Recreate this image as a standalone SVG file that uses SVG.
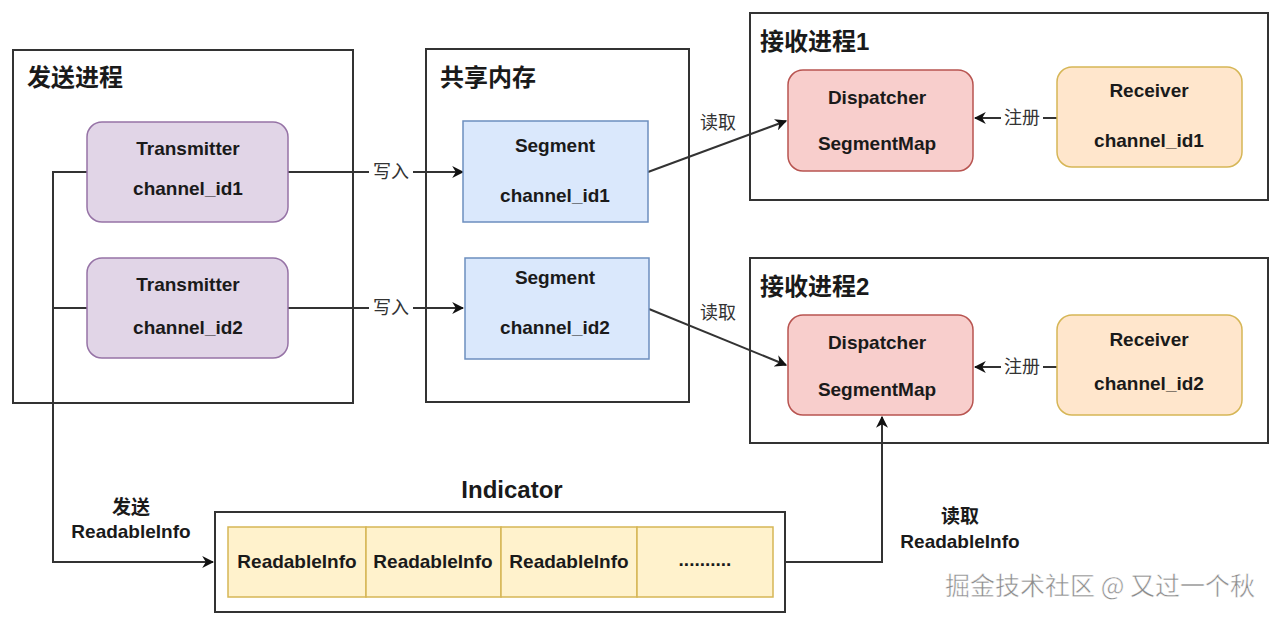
<svg xmlns="http://www.w3.org/2000/svg" width="1274" height="619" viewBox="0 0 1274 619">
<style>
.t{font-family:"Liberation Sans","Noto Sans CJK SC",sans-serif;fill:#1a1a1a}
.title{font-size:24px;font-weight:bold}
.nt{font-size:19px;font-weight:bold;text-anchor:middle}
.lbl{font-size:18px;text-anchor:middle;fill:#333}
.cont{fill:#fff;stroke:#333;stroke-width:2}
.tx{fill:#e1d5e7;stroke:#9673a6;stroke-width:1.5}
.seg{fill:#dae8fc;stroke:#6c8ebf;stroke-width:1.5}
.dis{fill:#f8cecc;stroke:#b85450;stroke-width:1.5}
.rcv{fill:#ffe6cc;stroke:#d6b656;stroke-width:1.5}
.cell{fill:#fff2cc;stroke:#d6b656;stroke-width:1.5}
.ln{fill:none;stroke:#333;stroke-width:2}
</style>
<defs>
<marker id="a" viewBox="0 0 10 10" refX="9" refY="5" markerWidth="12" markerHeight="12" orient="auto" markerUnits="userSpaceOnUse">
<path d="M0,0 L10,5 L0,10 L3,5 z" fill="#111"/>
</marker>
</defs>
<rect width="1274" height="619" fill="#fff"/>

<g id="sender">
<rect class="cont" x="13" y="50" width="340" height="353"/>
<text class="t title" x="27" y="86">发送进程</text>
</g>
<g id="shm">
<rect class="cont" x="426" y="49" width="263" height="353"/>
<text class="t title" x="440" y="86">共享内存</text>
</g>
<g id="recv1">
<rect class="cont" x="750" y="13" width="518" height="187"/>
<text class="t title" x="760" y="50">接收进程1</text>
</g>
<g id="recv2">
<rect class="cont" x="750" y="258" width="518" height="185"/>
<text class="t title" x="760" y="295">接收进程2</text>
</g>
<g id="indicator">
<text class="t" x="512" y="498" font-size="24" font-weight="bold" text-anchor="middle">Indicator</text>
<rect class="cont" x="215" y="512" width="570" height="100"/>
</g>

<g id="connectors">
<path class="ln" d="M288,172 H463" marker-end="url(#a)"/>
<path class="ln" d="M288,308 H463" marker-end="url(#a)"/>
<path class="ln" d="M648,172 L786,121" marker-end="url(#a)"/>
<path class="ln" d="M649,309 L786,365" marker-end="url(#a)"/>
<path class="ln" d="M1057,118 H975" marker-end="url(#a)"/>
<path class="ln" d="M1057,367 H975" marker-end="url(#a)"/>
<path class="ln" d="M87,172 H53 V562 H213" marker-end="url(#a)"/>
<path class="ln" d="M87,308 H53"/>
<path class="ln" d="M785,562 H882 V417" marker-end="url(#a)"/>
<rect x="369" y="160" width="44" height="24" fill="#fff"/>
<text class="t lbl" x="391" y="178">写入</text>
<rect x="369" y="296" width="44" height="24" fill="#fff"/>
<text class="t lbl" x="391" y="314">写入</text>
<text class="t lbl" x="718" y="129">读取</text>
<text class="t lbl" x="718" y="319">读取</text>
<rect x="1001" y="106" width="42" height="24" fill="#fff"/>
<text class="t lbl" x="1022" y="124">注册</text>
<rect x="1001" y="355" width="42" height="24" fill="#fff"/>
<text class="t lbl" x="1022" y="373">注册</text>
<text class="t nt" x="131" y="514">发送</text>
<text class="t nt" x="131" y="538">ReadableInfo</text>
<text class="t nt" x="960" y="523">读取</text>
<text class="t nt" x="960" y="548">ReadableInfo</text>
</g>

<g id="transmitter1">
<rect class="tx" x="87" y="122" width="201" height="100" rx="15"/>
<text class="t nt" x="188" y="155">Transmitter</text>
<text class="t nt" x="188" y="195">channel_id1</text>
</g>
<g id="transmitter2">
<rect class="tx" x="87" y="258" width="201" height="100" rx="15"/>
<text class="t nt" x="188" y="291">Transmitter</text>
<text class="t nt" x="188" y="334">channel_id2</text>
</g>
<g id="segment1">
<rect class="seg" x="463" y="121" width="185" height="101"/>
<text class="t nt" x="555" y="152">Segment</text>
<text class="t nt" x="555" y="202">channel_id1</text>
</g>
<g id="segment2">
<rect class="seg" x="465" y="258" width="184" height="101"/>
<text class="t nt" x="555" y="284">Segment</text>
<text class="t nt" x="555" y="334">channel_id2</text>
</g>
<g id="dispatcher1">
<rect class="dis" x="788" y="70" width="185" height="101" rx="15"/>
<text class="t nt" x="877" y="104">Dispatcher</text>
<text class="t nt" x="877" y="150">SegmentMap</text>
</g>
<g id="receiver1">
<rect class="rcv" x="1057" y="67" width="185" height="100" rx="15"/>
<text class="t nt" x="1149" y="97">Receiver</text>
<text class="t nt" x="1149" y="147">channel_id1</text>
</g>
<g id="dispatcher2">
<rect class="dis" x="788" y="315" width="185" height="100" rx="15"/>
<text class="t nt" x="877" y="349">Dispatcher</text>
<text class="t nt" x="877" y="396">SegmentMap</text>
</g>
<g id="receiver2">
<rect class="rcv" x="1057" y="315" width="185" height="100" rx="15"/>
<text class="t nt" x="1149" y="346">Receiver</text>
<text class="t nt" x="1149" y="390">channel_id2</text>
</g>
<g id="cells">
<rect class="cell" x="228" y="527" width="138" height="70"/>
<rect class="cell" x="366" y="527" width="135" height="70"/>
<rect class="cell" x="501" y="527" width="136" height="70"/>
<rect class="cell" x="637" y="527" width="136" height="70"/>
<text class="t nt" x="297" y="568" font-size="18">ReadableInfo</text>
<text class="t nt" x="433" y="568" font-size="18">ReadableInfo</text>
<text class="t nt" x="569" y="568" font-size="18">ReadableInfo</text>
<text class="t nt" x="705" y="566" font-size="17">..........</text>
</g>
<text x="1100" y="595" font-family="'Noto Sans CJK SC',sans-serif" font-size="25" fill="#8c8c8c" text-anchor="middle" stroke="#fff" stroke-width="0.5">掘金技术社区 @ 又过一个秋</text>
</svg>
